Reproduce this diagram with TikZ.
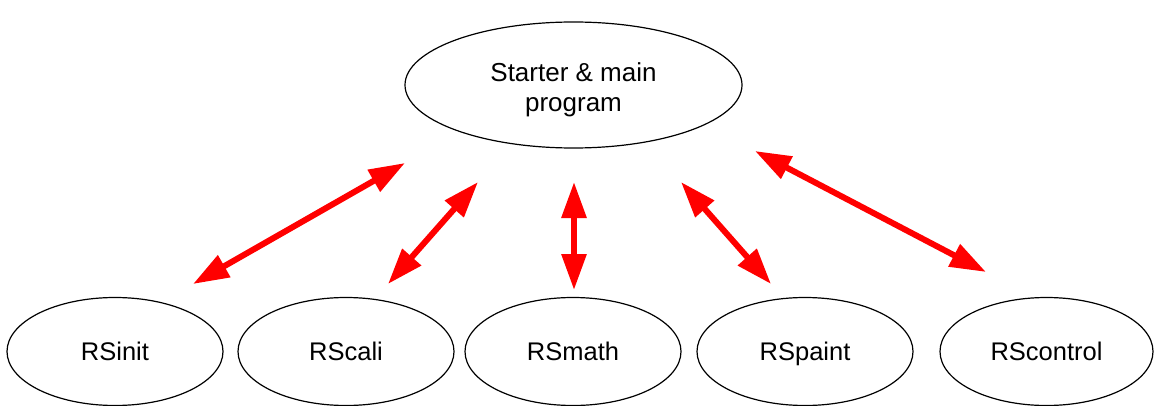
\documentclass[tikz,border=0pt]{standalone}
\usepackage{fontspec}
\setmainfont{Liberation Sans}
\usetikzlibrary{shapes.geometric,arrows.meta}
\begin{document}
\begin{tikzpicture}[x=1pt,y=-1pt,
  oval/.style={ellipse,draw=black,line width=1.2pt,inner sep=0pt},
  small/.style={oval,minimum width=216pt,minimum height=108pt,
    font=\fontsize{25.5}{29.5}\selectfont,text height=18pt,text depth=0pt},
  link/.style={draw=red,line width=6pt,
    {Triangle[length=36pt,width=24pt]}-{Triangle[length=36pt,width=24pt]}}]
\useasboundingbox (0,0) rectangle (1155,406);
\node[oval,minimum width=337pt,minimum height=126pt] (main) at (573.5,85) {};
\node[anchor=base,inner sep=0pt,font=\fontsize{26}{29.5}\selectfont] (mainlabel) at (573.5,81.7)
  {\begin{tabular}[t]{@{}c@{}}Starter \& main\\program\end{tabular}};
\node[small] (init) at (115,351.5) {RSinit};
\node[small] (cali) at (346,351.5) {RScali};
\node[small] (math) at (573,351.5) {RSmath};
\node[small] (paint) at (805,351.5) {RSpaint};
\node[small,minimum width=213pt] (control) at (1046.5,351.5) {RScontrol};
\coordinate (a1) at (193,284); \coordinate (b1) at (405,163);
\coordinate (a2) at (388,284); \coordinate (b2) at (478,182);
\coordinate (a3) at (574,290); \coordinate (b3) at (574,182);
\coordinate (a4) at (771,284); \coordinate (b4) at (681,182);
\coordinate (a5) at (986,272); \coordinate (b5) at (755,151);
\draw[link] (a1) -- (b1);
\draw[link] (a2) -- (b2);
\draw[link] (a3) -- (b3);
\draw[link] (a4) -- (b4);
\draw[link] (a5) -- (b5);
\end{tikzpicture}
\end{document}
